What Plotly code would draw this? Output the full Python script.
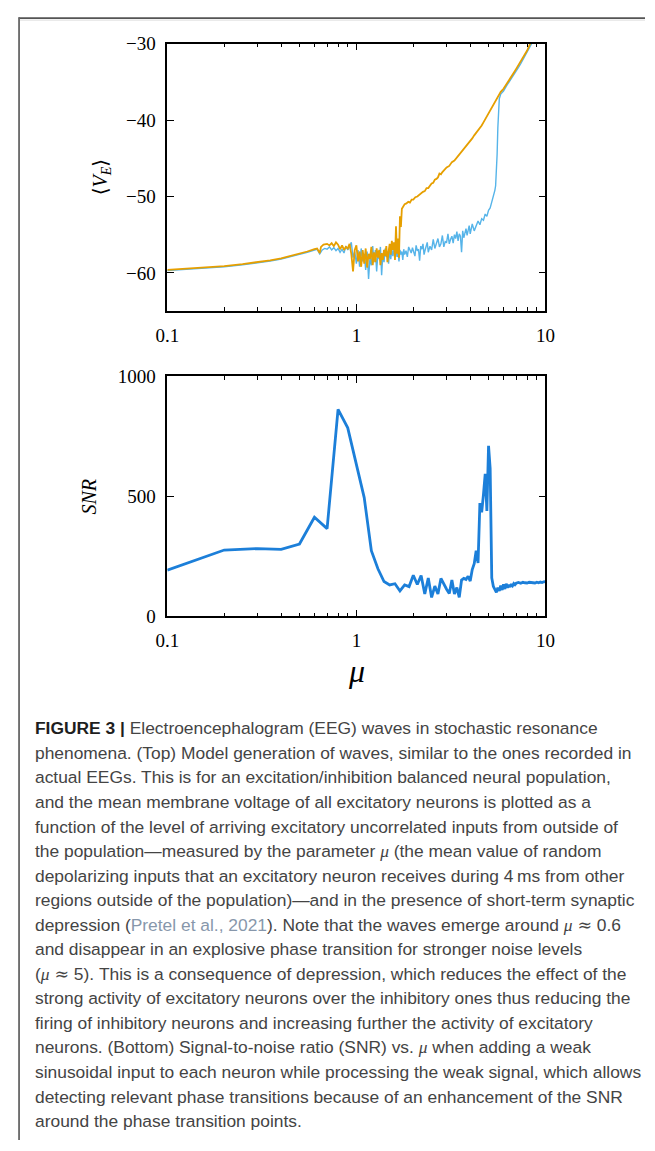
import plotly.graph_objects as go

W, H = 655, 1151

# ---------------- data: top panel <V_E> vs mu ----------------
mu_orange = [0.10, 0.15, 0.20, 0.25, 0.30, 0.35, 0.40, 0.45, 0.50, 0.55, 0.60, 0.62, 0.64, 0.65, 0.67,
             0.70, 0.72, 0.74, 0.76, 0.78, 0.80, 0.82, 0.84, 0.86, 0.88, 0.90, 0.92, 0.94, 0.96, 0.98,
             1.00, 1.02, 1.04, 1.06, 1.08, 1.10, 1.12, 1.14, 1.16, 1.18, 1.20, 1.22, 1.24, 1.26, 1.28,
             1.30, 1.32, 1.34, 1.36, 1.38, 1.40, 1.42, 1.44, 1.46, 1.48, 1.50, 1.52, 1.54, 1.56, 1.58,
             1.60, 1.62, 1.64, 1.66, 1.68, 1.70, 1.72, 1.74, 1.76, 1.80, 1.84, 1.88, 1.92, 1.96, 2.00,
             2.05, 2.10, 2.15, 2.20, 2.25, 2.30, 2.35, 2.40, 2.45, 2.50, 2.55, 2.60, 2.65, 2.70, 2.75,
             2.80, 2.85, 2.90, 2.95, 3.00, 3.10, 3.20, 3.30, 3.40, 3.50, 3.60, 3.70, 3.80, 3.90, 4.00,
             4.10, 4.20, 4.30, 4.40, 4.50, 4.60, 4.70, 4.80, 4.90, 5.00, 5.20, 5.40, 5.60, 5.80, 6.00,
             6.20, 6.40, 6.60, 6.80, 7.00, 7.20, 7.40, 7.60, 7.80, 8.00, 8.20, 8.40, 8.60]
ve_orange = [-59.6, -59.35, -59.1, -58.85, -58.6, -58.35, -58.1, -57.8, -57.5, -57.2, -56.9, -56.8, -57.4, -56.6, -56.3,
             -56.2, -56.4, -56.1, -56.5, -56.0, -56.3, -56.9, -56.4, -57.0, -56.6, -56.8, -56.2, -57.5, -59.8, -57.0,
             -56.4, -58.5, -57.2, -59.2, -57.0, -58.8, -56.8, -59.3, -57.5, -58.2, -56.6, -59.0, -57.3, -58.6, -56.8,
             -58.0, -57.0, -59.0, -57.4, -58.3, -57.0, -57.8, -56.5, -58.6, -57.2, -56.2, -57.6, -55.8, -57.0, -56.0,
             -58.3, -53.9, -57.5, -55.5, -58.0, -52.6, -54.0, -51.6, -51.4, -51.0, -50.9, -50.7, -50.8, -50.4, -50.4,
             -50.1, -50.0, -49.8, -49.5, -49.4, -49.3, -48.9, -48.9, -48.6, -48.3, -48.2, -47.8, -47.7, -47.5, -47.0,
             -47.1, -46.8, -46.6, -46.5, -46.2, -46.0, -45.5, -45.3, -44.9, -44.6, -44.2, -43.9, -43.4, -43.1, -42.7,
             -42.4, -42.0, -41.7, -41.4, -41.0, -40.7, -40.3, -39.9, -39.5, -39.0, -38.3, -37.6, -36.9, -36.3, -35.9,
             -35.3, -34.8, -34.3, -33.8, -33.3, -32.8, -32.3, -31.8, -31.4, -30.9, -30.3, -29.8, -29.3]

mu_blue = [0.10, 0.15, 0.20, 0.25, 0.30, 0.35, 0.40, 0.45, 0.50, 0.55, 0.60, 0.62, 0.64, 0.66, 0.68,
           0.70, 0.72, 0.74, 0.76, 0.78, 0.80, 0.82, 0.84, 0.86, 0.88, 0.90, 0.92, 0.94, 0.96, 0.98,
           1.00, 1.02, 1.04, 1.06, 1.08, 1.10, 1.12, 1.14, 1.16, 1.18, 1.20, 1.22, 1.24, 1.26, 1.28,
           1.30, 1.32, 1.34, 1.36, 1.38, 1.40, 1.42, 1.44, 1.46, 1.48, 1.50, 1.52, 1.54, 1.56, 1.58,
           1.60, 1.62, 1.64, 1.66, 1.68, 1.70, 1.72, 1.74, 1.76, 1.78, 1.80, 1.83, 1.86, 1.89, 1.92,
           1.95, 1.98, 2.01, 2.04, 2.07, 2.10, 2.13, 2.16, 2.19, 2.22, 2.25, 2.28, 2.31, 2.34, 2.37,
           2.40, 2.45, 2.50, 2.55, 2.60, 2.65, 2.70, 2.75, 2.80, 2.85, 2.90, 2.95, 3.00, 3.05, 3.10,
           3.15, 3.20, 3.25, 3.30, 3.35, 3.40, 3.45, 3.50, 3.55, 3.60, 3.65, 3.70, 3.75, 3.80, 3.85,
           3.90, 3.95, 4.00, 4.10, 4.20, 4.30, 4.40, 4.50, 4.60, 4.70, 4.80, 4.90, 5.00, 5.10, 5.20,
           5.30, 5.40, 5.45, 5.50, 5.55, 5.60, 5.65, 5.70, 5.80, 6.00, 6.20, 6.40, 6.60, 6.80, 7.00,
           7.20, 7.40, 7.60, 7.80, 8.00, 8.20, 8.40, 8.60]
ve_blue = [-59.7, -59.45, -59.2, -58.95, -58.7, -58.45, -58.2, -57.9, -57.6, -57.3, -57.0, -56.9, -57.5, -57.0, -56.8,
           -56.9, -56.6, -57.0, -56.7, -57.1, -56.8, -57.3, -56.9, -57.4, -56.5, -57.0, -56.6, -56.0, -58.0, -57.2,
           -58.8, -57.0, -59.2, -56.8, -58.5, -57.5, -59.6, -57.2, -60.8, -58.0, -59.0, -56.5, -58.6, -57.0, -59.8,
           -57.4, -58.2, -56.6, -60.3, -57.5, -58.6, -56.8, -57.9, -57.2, -58.8, -57.0, -58.2, -56.9, -57.8, -57.0,
           -57.6, -56.8, -57.9, -57.2, -58.5, -57.0, -57.6, -57.2, -58.3, -56.9, -57.6, -57.1, -57.9, -56.6, -57.0,
           -57.4, -56.7, -57.2, -57.8, -56.4, -57.1, -56.9, -58.4, -56.5, -56.9, -56.2, -57.6, -57.0, -56.4, -56.0,
           -57.3, -56.5, -57.0, -55.6, -56.8, -56.1, -55.5, -56.6, -56.2, -55.1, -56.6, -55.9, -56.0, -54.9, -56.2,
           -55.6, -55.2, -56.1, -55.0, -55.5, -54.6, -55.8, -54.9, -55.2, -57.3, -54.5, -55.4, -54.8, -54.2, -55.1,
           -54.4, -53.8, -54.9, -53.6, -54.5, -53.9, -53.2, -53.7, -52.9, -53.1, -52.3, -52.6, -51.8, -51.5, -50.8,
           -50.0, -49.2, -48.6, -47.0, -44.5, -41.0, -38.4, -37.2, -36.6, -36.2, -35.6, -35.1, -34.6, -34.1, -33.6,
           -33.1, -32.6, -32.1, -31.7, -31.2, -30.6, -30.1, -29.6]

# ---------------- data: bottom panel SNR vs mu ----------------
mu_snr = [0.1, 0.2, 0.3, 0.4, 0.5, 0.6, 0.7, 0.8, 0.9,
          1.0, 1.1, 1.2, 1.3, 1.4, 1.5, 1.6, 1.7, 1.8, 1.9,
          2.0, 2.1, 2.2, 2.3, 2.4, 2.5, 2.6, 2.7, 2.8, 2.9,
          3.0, 3.1, 3.2, 3.3, 3.4, 3.5, 3.6, 3.7, 3.8, 3.9,
          4.0, 4.1, 4.2, 4.3, 4.4, 4.5, 4.6, 4.7, 4.8, 4.9,
          5.0, 5.1, 5.2, 5.3, 5.4, 5.5, 5.6, 5.7, 5.8, 5.9,
          6.0, 6.1, 6.2, 6.3, 6.4, 6.5, 6.6, 6.7, 6.8, 6.9,
          7.0, 7.2, 7.4, 7.6, 7.8, 8.0, 8.2, 8.4, 8.6, 8.8,
          9.0, 9.2, 9.4, 9.6, 9.8, 10.0]
snr = [192, 276, 282, 279, 301, 412, 365, 861, 784,
       630, 494, 273, 198, 145, 131, 136, 106, 131, 124,
       171, 133, 170, 93, 160, 79, 126, 93, 158, 133,
       113, 95, 151, 93, 120, 79, 151, 158, 154, 167,
       147, 195, 219, 273, 222, 471, 433, 507, 593, 439,
       709, 616, 160, 125, 112, 100, 120, 106, 128, 110,
       133, 114, 136, 120, 131, 122, 135, 128, 137, 132,
       138, 141, 138, 142, 140, 139, 142, 140, 141, 139,
       142, 140, 143, 141, 144, 145]

x_tickvals = [0.1, 1, 10]
x_ticktext = ["0.1", "1", "10"]
x_minor = [0.2, 0.3, 0.4, 0.5, 0.6, 0.7, 0.8, 0.9, 2, 3, 4, 5, 6, 7, 8, 9]
ve_tickvals = [-60, -50, -40, -30]
ve_ticktext = ["\u221260", "\u221250", "\u221240", "\u221230"]
snr_tickvals = [0, 500, 1000]
snr_ticktext = ["0", "500", "1000"]

caption_lines = [
    "{B}FIGURE 3 |{BE} Electroencephalogram (EEG) waves in stochastic resonance",
    "phenomena. (Top) Model generation of waves, similar to the ones recorded in",
    "actual EEGs. This is for an excitation/inhibition balanced neural population,",
    "and the mean membrane voltage of all excitatory neurons is plotted as a",
    "function of the level of arriving excitatory uncorrelated inputs from outside of",
    "the population\u2014measured by the parameter {MU} (the mean value of random",
    "depolarizing inputs that an excitatory neuron receives during 4\u2009ms from other",
    "regions outside of the population)\u2014and in the presence of short-term synaptic",
    "depression ({REF}Pretel et al., 2021{END}). Note that the waves emerge around {MU} {AP} 0.6",
    "and disappear in an explosive phase transition for stronger noise levels",
    "({MU} {AP} 5). This is a consequence of depression, which reduces the effect of the",
    "strong activity of excitatory neurons over the inhibitory ones thus reducing the",
    "firing of inhibitory neurons and increasing further the activity of excitatory",
    "neurons. (Bottom) Signal-to-noise ratio (SNR) vs. {MU} when adding a weak",
    "sinusoidal input to each neuron while processing the weak signal, which allows",
    "detecting relevant phase transitions because of an enhancement of the SNR",
    "around the phase transition points.",
]

assert len(mu_orange) == len(ve_orange)
assert len(mu_blue) == len(ve_blue)
assert len(mu_snr) == len(snr)

# ---------------- layout helpers ----------------
def px(x):
    return x / W

def py(y):
    return 1 - y / H

PL, PR = 160.7, 552.0
TOP1, BOT1 = 34.3, 306.7
TOP2, BOT2 = 372.7, 617.7

SERIF = "Liberation Serif, DejaVu Serif, serif"

fig = go.Figure()
fig.add_trace(go.Scatter(x=mu_blue, y=ve_blue, mode="lines",
                         line=dict(color="#56B4E9", width=1.4), xaxis="x", yaxis="y",
                         showlegend=False, hoverinfo="skip"))
fig.add_trace(go.Scatter(x=mu_orange, y=ve_orange, mode="lines",
                         line=dict(color="#E69F00", width=1.8), xaxis="x", yaxis="y",
                         showlegend=False, hoverinfo="skip"))
fig.add_trace(go.Scatter(x=mu_snr, y=snr, mode="lines",
                         line=dict(color="#1C7FD9", width=2.8), xaxis="x2", yaxis="y2",
                         showlegend=False, hoverinfo="skip"))

def xaxis_cfg(anchor):
    return dict(type="log", range=[-1, 1], domain=[px(PL), px(PR)], anchor=anchor,
                tickmode="array", tickvals=x_tickvals, ticktext=x_ticktext,
                ticks="inside", ticklen=7, tickwidth=1.3, tickcolor="black",
                showline=True, linecolor="black", linewidth=1.5, mirror="ticks",
                showgrid=False, zeroline=False,
                minor=dict(tickmode="array", tickvals=x_minor, ticks="inside",
                           ticklen=4, tickwidth=1.1, tickcolor="black", showgrid=False),
                tickfont=dict(family=SERIF, size=19, color="black"),
                ticklabelstandoff=6)

def yaxis_cfg(anchor, rng, dom, tv, tt):
    return dict(range=rng, domain=dom, anchor=anchor,
                tickmode="array", tickvals=tv, ticktext=tt,
                ticks="inside", ticklen=7, tickwidth=1.3, tickcolor="black",
                showline=True, linecolor="black", linewidth=1.5, mirror="ticks",
                showgrid=False, zeroline=False,
                tickfont=dict(family=SERIF, size=19, color="black"),
                ticklabelstandoff=6)

annotations = [
    dict(text="\u27e8<i>V<sub>E</sub></i>\u27e9", x=px(92), y=py((TOP1 + BOT1) / 2),
         xref="paper", yref="paper", showarrow=False, textangle=-90,
         font=dict(family=SERIF, size=20, color="black"), xanchor="center", yanchor="middle"),
    dict(text="<i>SNR</i>", x=px(80), y=py((TOP2 + BOT2) / 2),
         xref="paper", yref="paper", showarrow=False, textangle=-90,
         font=dict(family=SERIF, size=20, color="black"), xanchor="center", yanchor="middle"),
    dict(text="<i>\u03bc</i>", x=px(356), y=py(673),
         xref="paper", yref="paper", showarrow=False,
         font=dict(family=SERIF, size=32, color="black"), xanchor="center", yanchor="middle"),
]

MU = "<span style=\"font-family:'Liberation Serif';font-style:italic\">\u03bc</span>"
AP = "<span style=\"font-family:'DejaVu Serif'\">\u2248</span>"
REF = "<span style=\"color:#8797ab\">"
END = "</span>"
B = "<span style=\"color:#1e1e1e\"><b>"
BE = "</b></span>"
for i, line in enumerate(caption_lines):
    txt = (line.replace("{MU}", MU).replace("{AP}", AP).replace("{REF}", REF)
           .replace("{END}", END).replace("{BE}", BE).replace("{B}", B))
    annotations.append(dict(text=txt, x=px(22.0), y=py(731.7 + 25 * i), xref="paper", yref="paper",
                            showarrow=False, xanchor="left", yanchor="middle", align="left",
                            font=dict(family="Liberation Sans, Arial, sans-serif", size=17.4,
                                      color="#444444")))

shapes = [
    dict(type="line", xref="paper", yref="paper", x0=px(7), x1=1.0, y0=py(8.3), y1=py(8.3),
         line=dict(color="#555555", width=1.8)),
    dict(type="line", xref="paper", yref="paper", x0=px(8), x1=1.0, y0=py(10.3), y1=py(10.3),
         line=dict(color="#dddddd", width=1)),
    dict(type="line", xref="paper", yref="paper", x0=px(7.3), x1=px(7.3), y0=py(7.5), y1=0,
         line=dict(color="#666666", width=1.8)),
]

fig.update_layout(
    width=W, height=H, autosize=False,
    margin=dict(l=0, r=0, t=0, b=0),
    paper_bgcolor="white", plot_bgcolor="white",
    xaxis=xaxis_cfg("y"),
    yaxis=yaxis_cfg("x", [-65, -30], [py(BOT1), py(TOP1)], ve_tickvals, ve_ticktext),
    xaxis2=xaxis_cfg("y2"),
    yaxis2=yaxis_cfg("x2", [0, 1000], [py(BOT2), py(TOP2)], snr_tickvals, snr_ticktext),
    annotations=annotations,
    shapes=shapes,
)

fig.write_html("out.html",
               post_script="document.body.style.margin='0';document.body.style.padding='0';"
                           "document.body.style.overflow='hidden';")
